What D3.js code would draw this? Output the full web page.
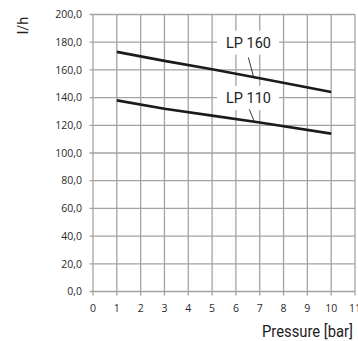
<!DOCTYPE html>
<html><head><meta charset="utf-8">
<script src="https://cdn.jsdelivr.net/npm/d3@7"></script>
<style>html,body{margin:0;padding:0;background:#fff;overflow:hidden}</style>
</head><body>
<svg id="c" width="358" height="341"></svg>
<script>
const pressure160 = [1, 3, 5, 7, 10];
const flow160 = [173, 166.5, 160.5, 154, 144];
const pressure110 = [1, 3, 5, 7, 10];
const flow110 = [138, 132, 127, 122, 114];
const xTicks = [0,1,2,3,4,5,6,7,8,9,10,11];
const yTicks = [0,20,40,60,80,100,120,140,160,180,200];
const seriesLabels = ["LP 160", "LP 110"];
const xTitle = "Pressure [bar]";
const yTitle = "l/h";

const svg = d3.select("#c");
const x = d3.scaleLinear().domain([0, 11]).range([93, 355]);
const y = d3.scaleLinear().domain([0, 200]).range([291.5, 14.5]);
const grid = "#a3a3a3";
const fmt = d => d3.format(".1f")(d).replace(".", ",");

// grid
svg.append("g").selectAll("line").data(yTicks).join("line")
  .attr("x1", x(0) - 3.5).attr("x2", x(11))
  .attr("y1", d => y(d)).attr("y2", d => y(d))
  .attr("stroke", grid).attr("stroke-width", 1.3);
svg.append("g").selectAll("line").data(xTicks).join("line")
  .attr("x1", d => x(d)).attr("x2", d => x(d))
  .attr("y1", y(200)).attr("y2", y(0) + 4)
  .attr("stroke", grid).attr("stroke-width", 1.3);

// tick labels
svg.append("g").selectAll("text").data(yTicks).join("text")
  .attr("x", 82).attr("y", d => y(d)).attr("dy", "0.36em")
  .attr("text-anchor", "end")
  .attr("font-family", "Open Sans, sans-serif").attr("font-size", 10.5)
  .attr("fill", "#2a2a2a").text(fmt);
svg.append("g").selectAll("text").data(xTicks).join("text")
  .attr("x", d => x(d)).attr("y", 311.5)
  .attr("text-anchor", "middle")
  .attr("font-family", "Open Sans, sans-serif").attr("font-size", 10.5)
  .attr("fill", "#2a2a2a").text(d => d);

// label boxes
const boxes = [{label: seriesLabels[0], v: 180, from: [248.3, 57.3], to: [254, 78.5]},
               {label: seriesLabels[1], v: 140, from: [249.3, 109.3], to: [254.7, 122.5]}];
boxes.forEach(b => {
  const cy = y(b.v);
  svg.append("rect").attr("x", 217).attr("y", cy - 11.5).attr("width", 62).attr("height", 24).attr("fill", "#fff");
});

// lines
const line = d3.line().x(d => x(d[0])).y(d => y(d[1]));
[[pressure160, flow160], [pressure110, flow110]].forEach(([px, fy]) => {
  svg.append("path").datum(px.map((p, i) => [p, fy[i]]))
    .attr("d", line).attr("fill", "none")
    .attr("stroke", "#1b1b1b").attr("stroke-width", 2.6);
});

function condensed(sel, targetW) {
  const w = sel.node().getComputedTextLength();
  return targetW / w;
}

boxes.forEach(b => {
  const cy = y(b.v);
  const t = svg.append("text")
    .attr("text-anchor", "middle")
    .attr("font-family", "Roboto, sans-serif").attr("font-size", 15)
    .attr("fill", "#222").text(b.label);
  const s = condensed(t, 45);
  t.attr("transform", `translate(248.5,${cy + 5.5}) scale(${s},1)`);
  svg.append("line").attr("x1", b.from[0]).attr("y1", b.from[1])
    .attr("x2", b.to[0]).attr("y2", b.to[1])
    .attr("stroke", "#222").attr("stroke-width", 0.9);
});

// titles
svg.append("text").attr("transform", "translate(28,25.5) rotate(-90)")
  .attr("text-anchor", "middle")
  .attr("font-family", "Roboto, sans-serif").attr("font-size", 14.5)
  .attr("fill", "#222").text(yTitle);
const xt = svg.append("text")
  .attr("text-anchor", "end")
  .attr("font-family", "Roboto, sans-serif").attr("font-size", 16.5)
  .attr("fill", "#222").text(xTitle);
const sx = condensed(xt, 91);
xt.attr("transform", `translate(353,336.5) scale(${sx},1)`);
</script>
</body></html>
